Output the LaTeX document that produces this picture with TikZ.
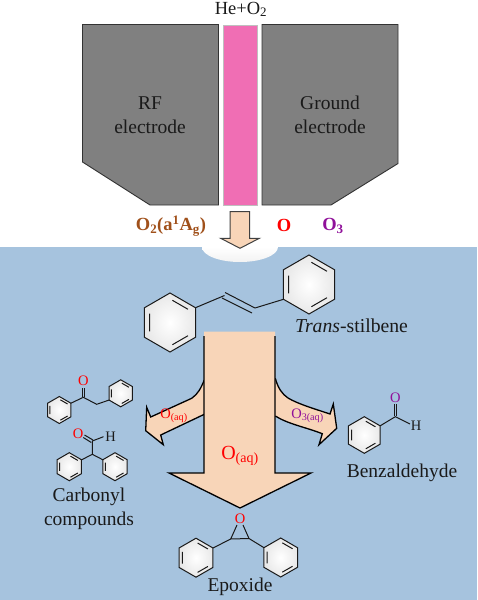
\documentclass[tikz,border=0pt]{standalone}
\usepackage{fontspec}
\setmainfont{Liberation Serif}
\definecolor{bluebg}{HTML}{A6C3DE}
\definecolor{peach}{HTML}{F8D5B8}
\definecolor{pinkch}{HTML}{F06EB4}
\definecolor{brownO}{HTML}{A0501A}
\definecolor{purpO}{HTML}{90109A}
\definecolor{inkc}{HTML}{1A1A1A}
\newcommand{\fs}[1]{\fontsize{#1}{#1}\selectfont}
\newcommand{\benz}[3]{%
\begin{scope}[shift={(#1,#2)},x=#3pt,y=#3pt]
\path[inner color=white,outer color=black!9] (0,-1)--(.866,-.5)--(.866,.5)--(0,1)--(-.866,.5)--(-.866,-.5)--cycle;
\draw[bondline] (0,-1)--(.866,-.5)--(.866,.5)--(0,1)--(-.866,.5)--(-.866,-.5)--cycle;
\draw[bondline] (-.693,-.3)--(-.693,.3) (.083,-.752)--(.61,-.448) (.61,.448)--(.083,.752);
\end{scope}}
\tikzset{
 x=1pt,y=-1pt,
 bondline/.style={draw=black!90,line width=1pt,line join=miter},
 elec/.style={fill=black!50,draw=black!80,line width=.9pt},
 label/.style={inner sep=0pt,text=inkc,font=\fs{19.5},align=center},
 species/.style={inner sep=0pt,font=\fs{18.5}\bfseries},
 atom/.style={inner sep=0pt,font=\fs{14.5}},
 arrowline/.style={draw=black,line width=1.3pt,line join=miter},
}
\begin{document}
\begin{tikzpicture}
\useasboundingbox (0,0) rectangle (477,600);
\fill[white] (0,0) rectangle (477,600);
\fill[bluebg] (0,247) rectangle (477,600);
\path[top color=white,bottom color=black!5] (202,247) arc[start angle=180,end angle=0,x radius=38,y radius=15] -- cycle;
% electrodes
\draw[elec] (82.5,24.5)--(218.5,24.5)--(218.5,205)--(150,205)--(82.5,162)--cycle;
\draw[elec] (262,24.5)--(398,24.5)--(398,163.5)--(331,205)--(262,205)--cycle;
\draw[fill=pinkch,draw=black!25,line width=.8pt] (223.5,25) rectangle (257.5,205);
\node[label,font=\fs{18.5}] (feed) at (241,9.5) {He+O\textsubscript{2}};
\node[label] (rf) at (150,115) {RF\\[4.5pt]electrode};
\node[label] (gnd) at (330,115) {Ground\\[4.5pt]electrode};
\node[species,text=brownO] (so) at (171,226) {O\textsubscript{2}(a\textsuperscript{1}A\textsubscript{g})};
\node[species,text=red] (ox) at (284,225) {O};
\node[species,text=purpO] (oz) at (333,226) {O\textsubscript{3}};
% small arrow
\draw[fill=peach,draw=black!75,line width=1pt] (230,211.7)--(249.7,211.7)--(249.7,238.3)--(259.3,238.3)--(240,248.3)--(220.7,238.3)--(230,238.3)--cycle;
% left and right branches
\fill[peach] (204.3,380) .. controls (201,388) and (198,394) .. (191.7,398.3) -- (150.7,417)--(146.7,407.3)--(145.7,430.7)--(163.3,444.7)--(160.7,435) -- (204.3,414.3)--(210,400)--cycle;
\draw[arrowline] (204.3,380) .. controls (201,388) and (198,394) .. (191.7,398.3) -- (150.7,417)--(146.7,407.3)--(145.7,430.7)--(163.3,444.7)--(160.7,435) -- (204.3,414.3);
\fill[peach] (275.3,378.3) .. controls (278,388) and (282,394) .. (288,398) .. controls (298,404) and (315,409) .. (330,414)--(333.3,404)--(336.7,428.3)--(319,444.7)--(322.3,433.7) .. controls (305,427) and (288,424) .. (275.3,416)--(270,400)--cycle;
\draw[arrowline] (275.3,378.3) .. controls (278,388) and (282,394) .. (288,398) .. controls (298,404) and (315,409) .. (330,414)--(333.3,404)--(336.7,428.3)--(319,444.7)--(322.3,433.7) .. controls (305,427) and (288,424) .. (275.3,416);
% big arrow
\fill[peach] (204,331.7)--(275,331.7)--(275,473)--(311,473)--(240,508)--(169,473)--(204,473)--cycle;
\draw[arrowline] (204,336)--(204,473)--(169,473)--(240,508)--(311,473)--(275,473)--(275,336);
\node[inner sep=0pt,text=red,font=\fs{20}] (obig) at (240,456) {O\textsubscript{(aq)}};
\node[inner sep=0pt,text=red,font=\fs{14.5}] (oleft) at (174,416) {O\textsubscript{(aq)}};
\node[inner sep=0pt,text=purpO,font=\fs{14.5}] (oright) at (307.5,416) {O\textsubscript{3(aq)}};
% stilbene
\benz{170}{322.5}{29.5}
\benz{309}{284.5}{29.5}
\draw[bondline] (195.5,307.7)--(224.5,295.5) (225,292.5)--(255,308) (222,298)--(252,313) (255,308)--(283.5,299.3);
\node[label,font=\fs{19.7},anchor=west] (stil) at (295,326) {\textit{Trans}-stilbene};
% ketone
\benz{59.3}{410}{13.5}
\benz{120.7}{393.3}{13.5}
\draw[bondline] (70.7,403.3)--(83.3,397.3)--(96.7,404.3)--(109.2,400);
\draw[bondline] (82.4,397)--(82.4,388) (84.6,397)--(84.6,388);
\node[atom,text=red] (ko) at (83.3,381) {O};
% diphenylacetaldehyde
\benz{69.3}{466.7}{14}
\benz{115}{466.7}{14}
\draw[bondline] (81.3,460)--(92.3,454.3)--(103.3,460) (92.3,454.3)--(92.3,441)--(103.5,436.7);
\draw[bondline] (93,440)--(84.5,435) (91.3,442.5)--(83.3,437.5);
\node[atom,text=red] (ao) at (78,433.5) {O};
\node[atom,text=inkc] (ah) at (110.5,437) {H};
\node[label] (carb) at (89,509) {Carbonyl\\[4.5pt]compounds};
% benzaldehyde
\benz{364.3}{435}{18.3}
\draw[bondline] (380.2,425.8)--(395.3,416.7)--(410,424);
\draw[bondline] (394.2,416)--(394.2,403.5) (396.6,416)--(396.6,403.5);
\node[atom,text=purpO] (bo) at (395.3,397.3) {O};
\node[atom,text=inkc] (bh) at (416,425.7) {H};
\node[label] (benzal) at (402,473) {Benzaldehyde};
% epoxide
\benz{196}{557.7}{19.5}
\benz{280.7}{557.5}{19.5}
\draw[bondline] (213,548)--(230.7,539)--(249,538.5)--(264,547.7) (230.7,539)--(237,525) (249,538.5)--(243,525);
\node[atom,text=red] (eo) at (240,519) {O};
\node[label] (epox) at (240,587) {Epoxide};
\end{tikzpicture}
\end{document}
